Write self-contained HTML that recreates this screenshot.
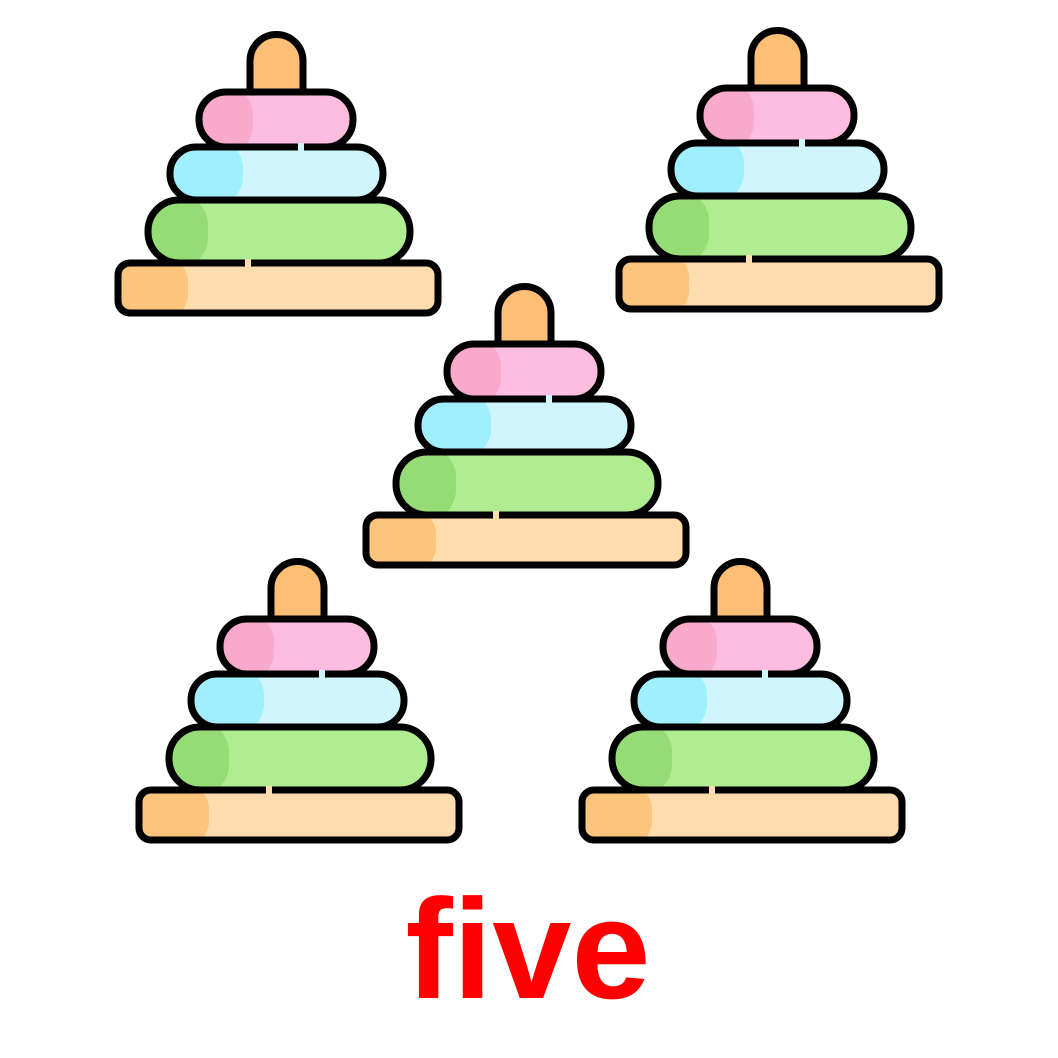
<!DOCTYPE html>
<html><head><meta charset="utf-8"><style>
html,body{margin:0;padding:0;background:#fff;}
svg{display:block;}
</style></head><body>
<svg width="1058" height="1058" viewBox="0 0 1058 1058">
<defs>
<symbol id="pyr" overflow="visible">
  <clipPath id="cPink"><rect x="81" y="57" width="154" height="55" rx="27"/></clipPath>
  <clipPath id="cBlue"><rect x="52" y="112" width="213" height="53" rx="26"/></clipPath>
  <clipPath id="cGreen"><rect x="30" y="165" width="262" height="63" rx="31"/></clipPath>
  <clipPath id="cBase"><rect x="0" y="228" width="320" height="50" rx="12"/></clipPath>
  <path d="M132 62 V26 A26.5 26.5 0 0 1 185 26 V62 Z" fill="#fdbf75" stroke="#000" stroke-width="7"/>
  <g clip-path="url(#cBase)"><rect x="0" y="228" width="320" height="50" fill="#fedcae"/><rect x="-20" y="222" width="90" height="62" rx="25" fill="#fdc47c"/></g>
  <rect x="0" y="228" width="320" height="50" rx="12" fill="none" stroke="#000" stroke-width="7"/>
  <g clip-path="url(#cGreen)"><rect x="30" y="165" width="262" height="63" fill="#b0ec92"/><rect x="0" y="160" width="90" height="73" rx="30" fill="#96dc76"/></g>
  <rect x="30" y="165" width="262" height="63" rx="31" fill="none" stroke="#000" stroke-width="7"/>
  <g clip-path="url(#cBlue)"><rect x="52" y="112" width="213" height="53" fill="#cff6fd"/><rect x="20" y="105" width="105" height="65" rx="28" fill="#a0efff"/></g>
  <rect x="52" y="112" width="213" height="53" rx="26" fill="none" stroke="#000" stroke-width="7"/>
  <g clip-path="url(#cPink)"><rect x="81" y="57" width="154" height="55" fill="#fcbde0"/><rect x="50" y="50" width="85" height="70" rx="30" fill="#f9a9cb"/></g>
  <rect x="81" y="57" width="154" height="55" rx="27" fill="none" stroke="#000" stroke-width="7"/>
  <rect x="180" y="108" width="6" height="8" fill="#cff6fd"/>
  <rect x="127" y="224" width="6" height="8" fill="#fedcae"/>
</symbol>
</defs>
<rect width="1058" height="1058" fill="#fff"/>
<use href="#pyr" x="118" y="35"/>
<use href="#pyr" x="619" y="31"/>
<use href="#pyr" x="366" y="287"/>
<use href="#pyr" x="139" y="562"/>
<use href="#pyr" x="582" y="562"/>
<text x="528" y="998" text-anchor="middle" font-family="Liberation Sans, sans-serif" font-weight="bold" font-size="142" fill="#ff0000" textLength="245" lengthAdjust="spacingAndGlyphs">five</text>
</svg>
</body></html>
